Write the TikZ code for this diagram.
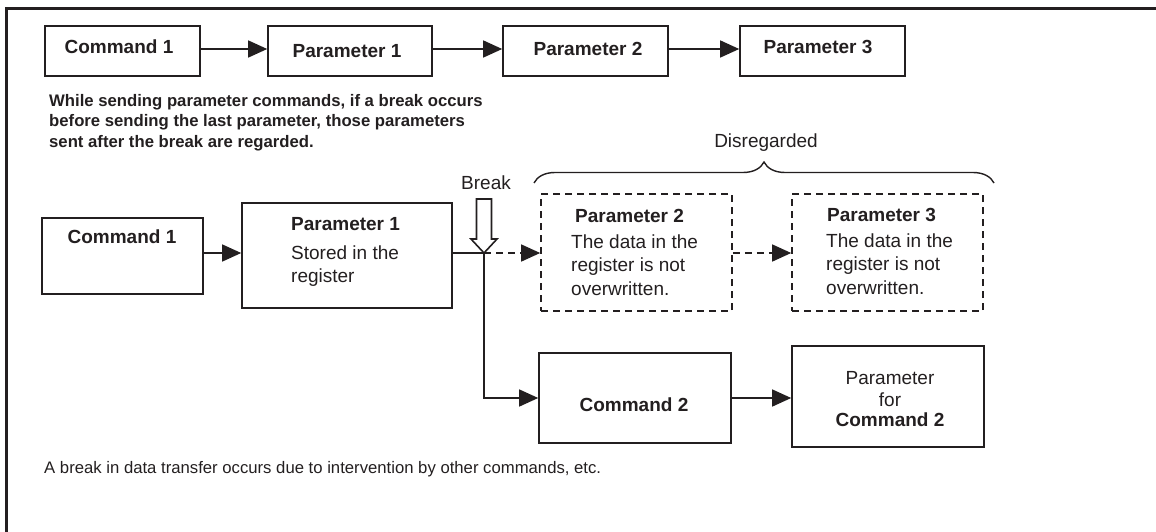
\documentclass[tikz,border=0pt]{standalone}
\usepackage{fontspec}
\setmainfont{Liberation Sans}
\usetikzlibrary{arrows.meta,decorations.pathreplacing}
\definecolor{ink}{HTML}{231F20}
\newcommand\bigtxt{\fontsize{19}{23}\selectfont}
\newcommand\paratxt{\fontsize{16.7}{20}\selectfont}
\newcommand\notetxt{\fontsize{16.7}{20}\selectfont}
\begin{document}
\begin{tikzpicture}[x=1pt,y=-1pt,
  every node/.style={inner sep=0pt,text=ink},
  box/.style={draw=ink,line width=1.6pt,rectangle},
  dbox/.style={box,dash pattern=on 7pt off 5pt},
  bt/.style={font=\bfseries\bigtxt,anchor=base},
  rt/.style={font=\bigtxt,anchor=base},
  wire/.style={draw=ink,line width=1.4pt},
  arr/.style={wire,-{Triangle[length=19pt,width=17pt]}},
  darr/.style={arr,dash pattern=on 7pt off 5pt},
]
\useasboundingbox (0,0) rectangle (1156,532);
% frame
\draw[ink,line width=3pt] (6,540) -- (6,9) -- (1160,9);

% ---- top row: normal sequence ----
\node[box,minimum width=155pt,minimum height=50pt] (tc1) at (122.5,51) {};
\node[box,minimum width=164pt,minimum height=50pt] (tp1) at (350,51) {};
\node[box,minimum width=165pt,minimum height=50pt] (tp2) at (585.5,51) {};
\node[box,minimum width=165pt,minimum height=50pt] (tp3) at (822.5,51) {};
\node[bt] (tc1x) at (119,54) {Command 1};
\node[bt] (tp1x) at (347,58) {Parameter 1};
\node[bt] (tp2x) at (588,56) {Parameter 2};
\node[bt] (tp3x) at (818,54) {Parameter 3};
\draw[arr] ([yshift=2pt]tc1.east) -- ([yshift=2pt]tp1.west);
\draw[arr] ([yshift=2pt]tp1.east) -- ([yshift=2pt]tp2.west);
\draw[arr] ([yshift=2pt]tp2.east) -- ([yshift=2pt]tp3.west);

% explanation
\node[font=\bfseries\paratxt,anchor=base west] (n1) at (49,107) {While sending parameter commands, if a break occurs};
\node[font=\bfseries\paratxt,anchor=base west] (n2) at (49,127) {before sending the last parameter, those parameters};
\node[font=\bfseries\paratxt,anchor=base west] (n3) at (49,147) {sent after the break are regarded.};

% ---- second row: interrupted sequence ----
\node[box,minimum width=161pt,minimum height=76pt] (c1b) at (122.5,256) {};
\node[bt] (c1bx) at (122,243) {Command 1};
\node[box,minimum width=210pt,minimum height=105pt] (p1b) at (347,255.5) {};
\node[bt,anchor=base west] (p1bt) at (291,230) {Parameter 1};
\node[rt,anchor=base west] (p1b1) at (291,259) {Stored in the};
\node[rt,anchor=base west] (p1b2) at (291,282) {register};

\node[dbox,minimum width=191pt,minimum height=117pt] (p2b) at (636.5,252.5) {};
\node[bt,anchor=base west] (p2bt) at (575,222) {Parameter 2};
\node[rt,anchor=base west] (p2b1) at (571,248) {The data in the};
\node[rt,anchor=base west] (p2b2) at (571,271) {register is not};
\node[rt,anchor=base west] (p2b3) at (571,295) {overwritten.};

\node[dbox,minimum width=191pt,minimum height=117pt] (p3b) at (887.5,252.5) {};
\node[bt,anchor=base west] (p3bt) at (827,221) {Parameter 3};
\node[rt,anchor=base west] (p3b1) at (826,247) {The data in the};
\node[rt,anchor=base west] (p3b2) at (826,270) {register is not};
\node[rt,anchor=base west] (p3b3) at (826,294) {overwritten.};

\node[box,minimum width=192pt,minimum height=90pt] (c2) at (635,398) {};
\node[bt] (c2x) at (634,411) {Command 2};
\node[box,minimum width=192pt,minimum height=101pt] (pc2) at (888,396.5) {};
\node[rt] (pc2a) at (890,384) {Parameter};
\node[rt] (pc2b) at (890,406) {for};
\node[bt] (pc2c) at (890,426) {Command 2};

\coordinate (j) at (484,253);
\draw[arr] ([yshift=3pt]c1b.east) -- ([yshift=2.5pt]p1b.west);
\draw[wire] ([yshift=2.5pt]p1b.east) -- (j);
\draw[darr] (j) -- (j -| p2b.west);
\draw[darr] (j -| p2b.east) -- (j -| p3b.west);
\draw[arr] (j) |- (c2.west);
\draw[arr] (c2.east) -- (c2.east -| pc2.west);

% break marker
\draw[ink,fill=white,line width=1.6pt,line join=miter]
  (j) -- ++(-13,-14) -- ++(5.5,0) -- ++(0,-40) -- ++(15,0) -- ++(0,40) -- ++(5.5,0) -- cycle;
\node[rt] (brk) at (486,189) {Break};

% brace over the ignored parameters
\draw[ink,line width=1.4pt,decorate,decoration={brace,amplitude=21pt}] (534,183) -- (994,183);
\node[rt] (dis) at (766,147) {Disregarded};

\node[font=\notetxt,anchor=base west] (note) at (44,473) {A break in data transfer occurs due to intervention by other commands, etc.};
\end{tikzpicture}
\end{document}
